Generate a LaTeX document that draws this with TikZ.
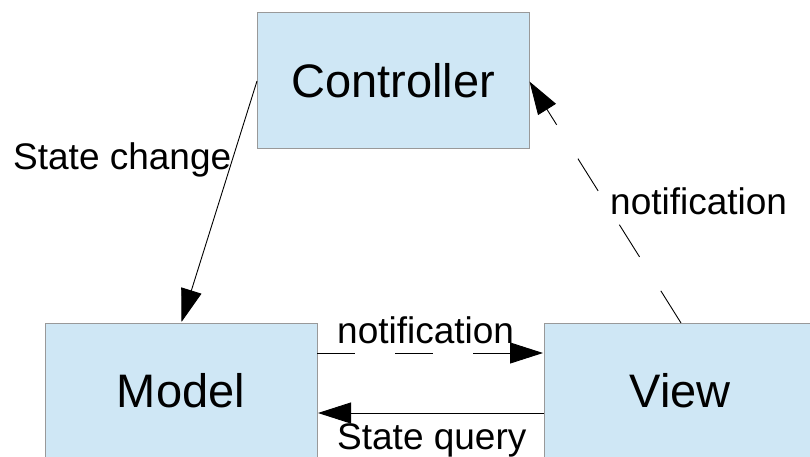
\documentclass[tikz,border=0pt]{standalone}
\usepackage{fontspec}
\setmainfont{Liberation Sans}
\usetikzlibrary{arrows.meta}
\definecolor{boxfill}{HTML}{CFE7F5}
\definecolor{boxline}{HTML}{999999}
\tikzset{
  unit/.style={x=1pt,y=-1pt},
  block/.style={draw=boxline,line width=1pt,fill=boxfill,minimum width=272pt,minimum height=136pt,
    inner sep=0pt,font=\fontsize{47}{56}\selectfont},
  lbl/.style={inner sep=0pt,anchor=base west,font=\fontsize{37}{44}\selectfont},
  link/.style={line width=0.9pt,-{Triangle[length=33pt,width=21pt]}},
  dashlink/.style={link,dash pattern=on 38pt off 40pt}
}
\begin{document}
\begin{tikzpicture}[unit]
\useasboundingbox (0,0) rectangle (810,457);
\clip (0,0) rectangle (810,457);
\fill[white] (0,0) rectangle (810,457);
% the three components
\node[block] (ctrl)  at (393,81)  {Controller};
\node[block] (model) at (181,391) {Model};
\node[block] (view)  at (680,391) {View};
% anchor points on the box borders
\coordinate (cL) at (257,81);
\coordinate (cR) at (529.5,81.5);
\coordinate (mT) at (181.5,322);
\coordinate (vT) at (681,323);
\coordinate (mR1) at (317,353);
\coordinate (vL1) at (543,353);
\coordinate (vL2) at (544,413);
\coordinate (mR2) at (318,413);
% connectors
\draw[link] (cL) -- (mT);
\draw[dashlink] (vT) -- (cR);
\draw[dashlink] (mR1) -- (vL1);
\draw[link] (vL2) -- (mR2);
% labels
\node[lbl] (l1) at (13,169) {State change};
\node[lbl] (l2) at (610,214) {notification};
\node[lbl] (l3) at (337,343) {notification};
\node[lbl] (l4) at (337,449) {State query};
\end{tikzpicture}
\end{document}
